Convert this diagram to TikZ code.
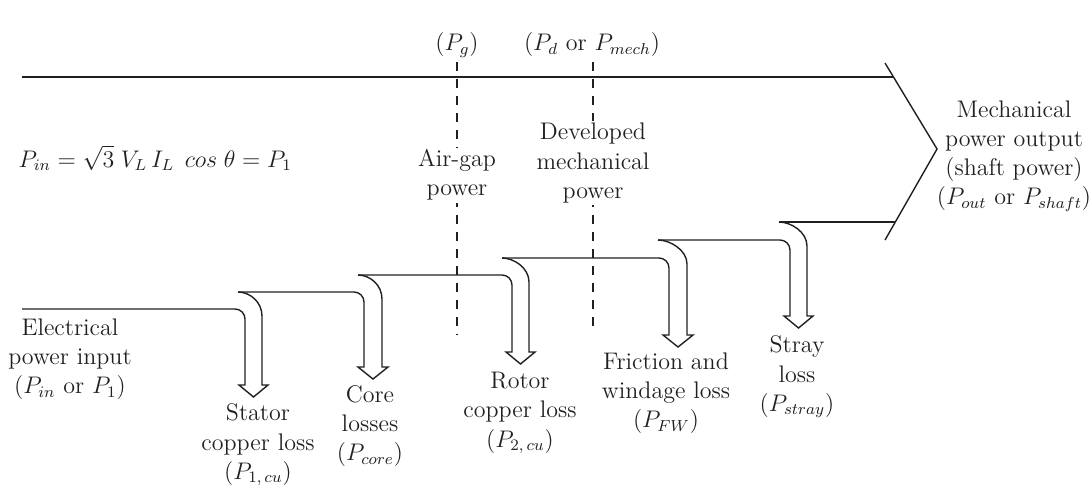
\documentclass[tikz,border=0pt]{standalone}
\usepackage{amsmath, amssymb}
\usepackage{tikz}
\usetikzlibrary{positioning}
\usepackage{xcolor}

\definecolor{inkgray}{HTML}{231F20}

\begin{document}
\begin{tikzpicture}[x=0.5pt, y=-0.5pt, color=inkgray, line width=0.7pt,
  lbl/.style={align=center, font=\fontsize{12}{14.6}\selectfont, inner sep=1pt},
  cut/.style={dash pattern=on 4.5pt off 4pt}]
  \useasboundingbox (0,0) rectangle (1090,493);

  % Dashed cuts for air-gap and developed power
  \draw[cut] (457,62) -- (457,335);
  \draw[cut] (593,62) -- (593,332);

  % Upper edge of the power band and output head
  \draw (22,77) -- (893,77);
  \draw (885,63) -- (937,149) -- (885,240);

  % Loss arrows leaving the lower edge
  \foreach \xa/\ylo/\xl/\xr/\xs/\yhi/\yb in {22/309/245/262/238/292/385,
      238/292/364/382/358/275/367, 358/275/512/529/502/258/352,
      502/258/669/687/658/240/335, 658/240/790/807/779/222/316} {
    \draw[rounded corners=5pt] (\xa,\ylo) -| (\xl,\ylo+30) [sharp corners]
      -- (\xl,\yb) -- (\xl-6,\yb) -- ({(\xl+\xr)/2},\yb+12) -- (\xr+6,\yb) -- (\xr,\yb)
      -- (\xr,\yhi+24) .. controls (\xr,\yhi+10) and (\xs+12,\yhi) .. (\xs,\yhi);
  }
  \draw (779,222) -- (895,222);

  % Labels
  \node[lbl, anchor=west] (pineq) at (16,158) {$P_{in} = \sqrt{3}\;V_L\,I_L\;\,cos\;\theta = P_1$};
  \node[lbl] (inlbl) at (70,359) {Electrical\\power input\\($P_{in}$ or $P_1$)};
  \node[lbl] (stator) at (258,445) {Stator\\copper loss\\($P_{1,\,cu}$)};
  \node[lbl] (core) at (370,426) {Core\\losses\\($P_{core}$)};
  \node[lbl] (rotor) at (520,413) {Rotor\\copper loss\\($P_{2,\,cu}$)};
  \node[lbl] (fw) at (666,393) {Friction and\\windage loss\\($P_{FW}$)};
  \node[lbl] (stray) at (797,377) {Stray\\loss\\($P_{stray}$)};
  \node[lbl] (outlbl) at (1014,156) {Mechanical\\power output\\(shaft power)\\($P_{out}$ or $P_{shaft}$)};
  \node[lbl, fill=white] (airgap) at (457,175) {Air-gap\\power};
  \node[lbl, fill=white] (devmech) at (593,163) {Developed\\mechanical\\power};
  \node[lbl] (pg) at (457,45) {($P_g$)};
  \node[lbl] (pd) at (592,45) {($P_d$ or $P_{mech}$)};
\end{tikzpicture}
\end{document}
